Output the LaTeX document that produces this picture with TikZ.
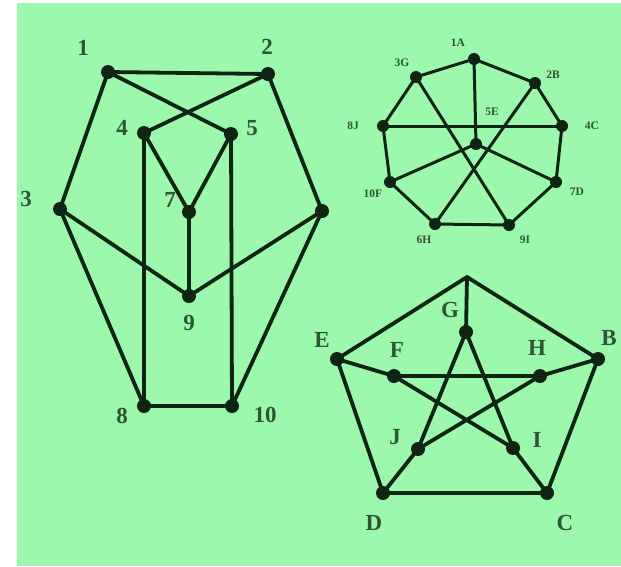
\documentclass[tikz,border=0pt]{standalone}
\usepackage{fontspec}
\setmainfont{Liberation Serif}
\definecolor{bggreen}{RGB}{155,248,172}
\definecolor{edgeink}{RGB}{16,36,20}
\definecolor{labelink}{RGB}{45,85,55}

\begin{document}
\begin{tikzpicture}[x=1pt, y=-1pt,
    vtx/.style={circle, fill=edgeink, inner sep=0pt, minimum size=14pt},
    smallvtx/.style={vtx, minimum size=12pt},
    bigtag/.style={text=labelink, inner sep=0pt, font=\fontsize{23}{23}\selectfont\bfseries},
    smalltag/.style={text=labelink, inner sep=0pt, font=\fontsize{11.5}{12}\selectfont\bfseries},
    edge/.style={draw=edgeink, line width=3.8pt, line cap=round},
    thinedge/.style={draw=edgeink, line width=3pt, line cap=round}]
    \useasboundingbox (0,0) rectangle (621,566);
    \fill[bggreen] (17,3) rectangle (621,566);

    % left drawing
    \node[vtx] (n1) at (108,72) {};
    \node[vtx] (n2) at (268,74) {};
    \node[vtx] (n3) at (60,209) {};
    \node[vtx] (n4) at (144,133) {};
    \node[vtx] (n5) at (231,134) {};
    \node[vtx] (n6) at (322,211) {};
    \node[vtx] (n7) at (189,212) {};
    \node[vtx] (n8) at (144,406) {};
    \node[vtx] (n9) at (189,296) {};
    \node[vtx] (n10) at (232,406) {};
    \draw[edge] (n1.center) -- (n2.center);
    \draw[edge] (n1.center) -- (n5.center);
    \draw[edge] (n2.center) -- (n4.center);
    \draw[edge] (n1.center) -- (n3.center);
    \draw[edge] (n2.center) -- (n6.center);
    \draw[edge] (n4.center) -- (n7.center);
    \draw[edge] (n5.center) -- (n7.center);
    \draw[edge] (n7.center) -- (n9.center);
    \draw[edge] (n3.center) -- (n9.center);
    \draw[edge] (n6.center) -- (n9.center);
    \draw[edge] (n4.center) -- (n8.center);
    \draw[edge] (n5.center) -- (n10.center);
    \draw[edge] (n3.center) -- (n8.center);
    \draw[edge] (n6.center) -- (n10.center);
    \draw[edge] (n8.center) -- (n10.center);
    \node[bigtag] (t1) at (83,48) {1};
    \node[bigtag] (t2) at (267,47) {2};
    \node[bigtag] (t3) at (26,199) {3};
    \node[bigtag] (t4) at (122,128) {4};
    \node[bigtag] (t5) at (252,128) {5};
    \node[bigtag] (t7) at (170,200) {7};
    \node[bigtag] (t9) at (189,323) {9};
    \node[bigtag] (t8) at (122,416) {8};
    \node[bigtag] (t10) at (265,415) {10};

    % top right drawing
    \node[smallvtx] (a1) at (474,59) {};
    \node[smallvtx] (b2) at (535,83) {};
    \node[smallvtx] (c4) at (562,126) {};
    \node[smallvtx] (d7) at (556,182) {};
    \node[smallvtx] (i9) at (509,225) {};
    \node[smallvtx] (h6) at (435,224) {};
    \node[smallvtx] (f10) at (390,182) {};
    \node[smallvtx] (j8) at (383,126) {};
    \node[smallvtx] (g3) at (416,77) {};
    \node[smallvtx] (e5) at (476,144) {};
    \draw[thinedge] (a1.center) -- (g3.center);
    \draw[thinedge] (a1.center) -- (b2.center);
    \draw[thinedge] (a1.center) -- (e5.center);
    \draw[thinedge] (b2.center) -- (c4.center);
    \draw[thinedge] (b2.center) -- (h6.center);
    \draw[thinedge] (g3.center) -- (j8.center);
    \draw[thinedge] (g3.center) -- (i9.center);
    \draw[thinedge] (j8.center) -- (c4.center);
    \draw[thinedge] (j8.center) -- (f10.center);
    \draw[thinedge] (c4.center) -- (d7.center);
    \draw[thinedge] (e5.center) -- (f10.center);
    \draw[thinedge] (e5.center) -- (d7.center);
    \draw[thinedge] (d7.center) -- (i9.center);
    \draw[thinedge] (i9.center) -- (h6.center);
    \draw[thinedge] (h6.center) -- (f10.center);
    \node[smalltag] (ta1) at (458,43) {1A};
    \node[smalltag] (tg3) at (402,63) {3G};
    \node[smalltag] (tb2) at (553,75) {2B};
    \node[smalltag] (tj8) at (353,126) {8J};
    \node[smalltag] (te5) at (492,112) {5E};
    \node[smalltag] (tc4) at (592,126) {4C};
    \node[smalltag] (tf10) at (373,194) {10F};
    \node[smalltag] (td7) at (577,192) {7D};
    \node[smalltag] (th6) at (424,240) {6H};
    \node[smalltag] (ti9) at (525,240) {9I};

    % bottom right drawing
    \coordinate (A) at (467,277);
    \node[vtx] (G) at (466,332) {};
    \node[vtx] (E) at (337,359) {};
    \node[vtx] (B) at (598,359) {};
    \node[vtx] (F) at (394,376) {};
    \node[vtx] (H) at (540,376) {};
    \node[vtx] (J) at (418,449) {};
    \node[vtx] (I) at (513,448) {};
    \node[vtx] (D) at (383,493) {};
    \node[vtx] (C) at (547,493) {};
    \draw[edge] (A) -- (E.center);
    \draw[edge] (A) -- (B.center);
    \draw[edge] (A) -- (G.center);
    \draw[edge] (E.center) -- (D.center);
    \draw[edge] (B.center) -- (C.center);
    \draw[edge] (D.center) -- (C.center);
    \draw[edge] (E.center) -- (F.center);
    \draw[edge] (B.center) -- (H.center);
    \draw[edge] (C.center) -- (I.center);
    \draw[edge] (D.center) -- (J.center);
    \draw[edge] (F.center) -- (H.center);
    \draw[edge] (H.center) -- (J.center);
    \draw[edge] (J.center) -- (G.center);
    \draw[edge] (G.center) -- (I.center);
    \draw[edge] (I.center) -- (F.center);
    \node[bigtag] (tG) at (450,310) {G};
    \node[bigtag] (tE) at (322,340) {E};
    \node[bigtag] (tF) at (397,350) {F};
    \node[bigtag] (tH) at (537,348) {H};
    \node[bigtag] (tB) at (609,338) {B};
    \node[bigtag] (tJ) at (395,437) {J};
    \node[bigtag] (tI) at (537,440) {I};
    \node[bigtag] (tD) at (374,523) {D};
    \node[bigtag] (tC) at (565,523) {C};
\end{tikzpicture}
\end{document}
